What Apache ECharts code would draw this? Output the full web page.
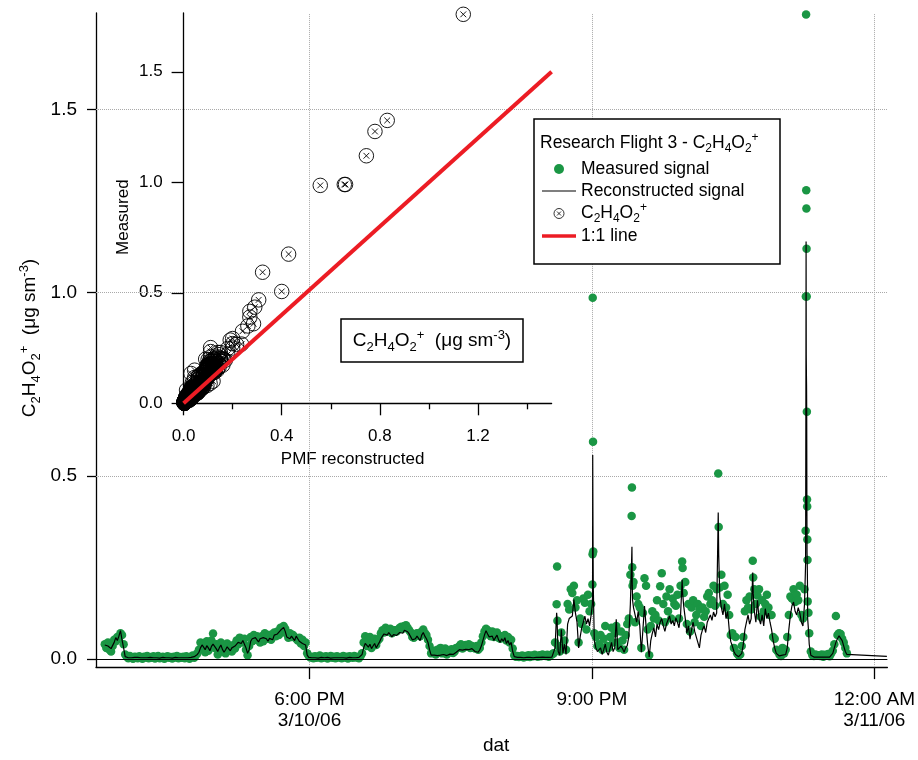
<!DOCTYPE html>
<html><head><meta charset="utf-8">
<script src="https://cdn.jsdelivr.net/npm/echarts@6/dist/echarts.min.js"></script>
<style>html,body{margin:0;padding:0;background:#fff}#chart{width:918px;height:760px}</style>
</head><body><div id="chart"></div>
<script>
// Time axis: minutes after 15:00 on 3/10/06
const START_MIN = 49.5;
const STEP_MIN = 1;

// Measured signal (ug sm-3), one value per minute
const measured = [
0.040,0.030,0.045,0.025,0.020,0.035,0.052,0.048,0.060,0.055,
0.070,0.065,0.040,0.012,0.006,0.002,0.008,0.004,0.000,0.006,
0.005,0.002,0.007,0.003,0.000,0.006,0.004,0.008,0.002,0.005,
0.003,0.007,0.001,0.005,0.008,0.002,0.004,0.006,0.000,0.005,
0.007,0.003,0.005,0.001,0.006,0.004,0.008,0.002,0.005,0.003,
0.006,0.002,0.007,0.004,0.000,0.006,0.009,0.003,0.010,0.015,
0.025,0.045,0.030,0.040,0.018,0.048,0.022,0.035,0.050,0.069,
0.030,0.040,0.012,0.038,0.045,0.020,0.025,0.015,0.042,0.035,
0.030,0.020,0.038,0.028,0.050,0.040,0.058,0.052,0.045,0.055,
0.025,0.010,0.035,0.060,0.048,0.065,0.052,0.062,0.055,0.045,
0.062,0.048,0.070,0.060,0.055,0.065,0.052,0.068,0.072,0.062,
0.075,0.065,0.085,0.078,0.090,0.082,0.068,0.058,0.070,0.060,
0.065,0.060,0.055,0.050,0.058,0.042,0.052,0.035,0.045,0.015,
0.008,0.004,0.006,0.002,0.007,0.003,0.005,0.009,0.002,0.006,
0.004,0.007,0.001,0.005,0.008,0.003,0.006,0.002,0.007,0.004,
0.005,0.002,0.008,0.004,0.006,0.001,0.007,0.005,0.003,0.008,
0.004,0.006,0.002,0.007,0.015,
0.045,0.062,0.035,0.050,0.060,0.030,0.045,0.055,0.038,0.050,
0.055,0.070,0.078,0.072,0.085,0.075,0.080,0.082,0.070,0.078,
0.078,0.075,0.080,0.085,0.088,0.082,0.090,0.092,0.085,0.078,
0.072,0.060,0.058,0.068,0.070,0.065,0.062,0.075,0.080,0.070,
0.065,0.052,0.035,0.015,0.018,0.022,0.012,0.025,0.018,0.030,
0.015,0.020,0.028,0.012,0.022,0.018,0.026,0.016,0.020,0.030,
0.030,0.035,0.040,0.028,0.032,0.038,0.036,0.040,0.030,0.035,
0.032,0.028,0.035,0.025,0.030,0.045,0.062,0.075,0.082,0.078,
0.070,0.062,0.075,0.060,0.068,0.072,0.058,0.055,0.062,0.060,
0.065,0.050,0.060,0.045,0.052,0.028,0.010,0.006,0.008,0.005,
0.007,0.009,0.004,0.008,0.006,0.010,0.005,0.009,0.007,0.011,
0.008,0.006,0.010,0.007,0.012,0.009,0.008,0.011,0.006,0.010,
0.012,0.015,0.045,0.149,0.035,0.020,0.072,0.030,0.050,0.025,
0.150,0.135,0.190,0.180,0.200,0.140,0.160,0.045,0.110,0.095,
0.165,0.153,0.080,0.175,0.130,0.150,0.986,0.070,0.060,0.035,
0.040,0.065,0.025,0.055,0.090,0.036,0.030,0.060,0.085,0.045,
0.070,0.090,0.045,0.030,0.075,0.050,0.025,0.065,0.095,0.110,
0.230,0.468,0.210,0.100,0.170,0.150,0.140,0.030,0.125,0.220,
0.200,0.080,0.010,0.090,0.130,0.110,0.120,0.160,0.105,0.198,
0.234,0.150,0.100,0.170,0.130,0.190,0.110,0.165,0.150,0.145,
0.175,0.110,0.200,0.266,0.180,0.210,0.095,0.150,0.075,0.140,
0.160,0.100,0.120,0.150,0.135,0.090,0.140,0.115,0.130,0.170,
0.180,0.150,0.160,0.200,0.145,0.190,0.506,0.195,0.230,0.150,
0.200,0.140,0.175,0.120,0.065,0.070,0.030,0.060,0.015,0.010,
0.012,0.035,0.060,0.130,0.160,0.140,0.170,0.135,0.268,0.190,
0.150,0.173,0.190,0.115,0.160,0.130,0.150,0.175,0.140,0.120,
0.120,0.060,0.055,0.025,0.020,0.012,0.008,0.030,0.015,0.025,
0.060,0.120,0.170,0.165,0.190,0.155,0.175,0.160,0.200,0.120,
0.110,0.190,1.760,0.157,0.070,0.020,0.010,0.008,0.012,0.009,
0.010,0.008,0.012,0.006,0.011,0.009,0.013,0.007,0.015,0.022,
0.040,0.117,0.065,0.070,0.068,0.055,0.045,0.030,0.015
];

// PMF reconstructed signal (ug sm-3), same times as measured
const recon = [
0.038,0.036,0.035,0.032,0.028,0.030,0.045,0.058,0.050,0.062,
0.077,0.052,0.030,0.006,0.004,0.003,0.004,0.003,0.003,0.004,
0.003,0.004,0.003,0.003,0.002,0.003,0.004,0.003,0.003,0.004,
0.003,0.003,0.004,0.003,0.003,0.002,0.003,0.004,0.003,0.003,
0.004,0.003,0.003,0.002,0.003,0.004,0.003,0.003,0.004,0.003,
0.003,0.003,0.004,0.003,0.004,0.004,0.005,0.006,0.008,0.012,
0.018,0.030,0.038,0.032,0.025,0.036,0.030,0.022,0.034,0.040,
0.035,0.028,0.020,0.030,0.038,0.026,0.018,0.025,0.033,0.028,
0.022,0.030,0.025,0.035,0.040,0.045,0.048,0.042,0.050,0.045,
0.030,0.015,0.025,0.048,0.055,0.050,0.058,0.052,0.046,0.055,
0.050,0.058,0.062,0.055,0.048,0.056,0.060,0.052,0.065,0.070,
0.068,0.072,0.078,0.082,0.086,0.075,0.060,0.065,0.055,0.062,
0.058,0.050,0.062,0.055,0.048,0.050,0.042,0.040,0.038,0.010,
0.004,0.003,0.003,0.004,0.003,0.003,0.002,0.003,0.004,0.003,
0.003,0.003,0.004,0.003,0.002,0.003,0.003,0.004,0.003,0.003,
0.003,0.004,0.003,0.003,0.002,0.003,0.004,0.003,0.003,0.004,
0.003,0.003,0.004,0.006,0.012,
0.030,0.042,0.038,0.032,0.040,0.028,0.035,0.042,0.030,0.038,
0.045,0.055,0.062,0.068,0.070,0.065,0.072,0.068,0.060,0.066,
0.070,0.064,0.068,0.072,0.075,0.070,0.078,0.082,0.074,0.068,
0.060,0.052,0.048,0.055,0.062,0.058,0.050,0.065,0.072,0.062,
0.055,0.045,0.025,0.010,0.008,0.010,0.012,0.009,0.011,0.010,
0.008,0.012,0.010,0.009,0.011,0.013,0.010,0.012,0.015,0.018,
0.022,0.025,0.028,0.024,0.020,0.026,0.030,0.025,0.022,0.028,
0.025,0.020,0.022,0.018,0.025,0.035,0.050,0.065,0.077,0.068,
0.060,0.055,0.062,0.050,0.058,0.065,0.052,0.045,0.055,0.048,
0.058,0.042,0.050,0.038,0.045,0.020,0.006,0.004,0.004,0.003,
0.004,0.004,0.003,0.004,0.004,0.003,0.004,0.004,0.003,0.004,
0.004,0.003,0.004,0.004,0.005,0.004,0.004,0.005,0.004,0.004,
0.005,0.008,0.030,0.126,0.020,0.010,0.080,0.015,0.040,0.012,
0.095,0.110,0.105,0.117,0.162,0.125,0.100,0.030,0.060,0.085,
0.100,0.117,0.095,0.110,0.090,0.120,0.557,0.050,0.030,0.020,
0.015,0.030,0.012,0.025,0.040,0.018,0.010,0.028,0.045,0.020,
0.030,0.108,0.025,0.020,0.035,0.028,0.018,0.030,0.036,0.060,
0.150,0.306,0.140,0.120,0.100,0.130,0.090,0.018,0.080,0.144,
0.090,0.040,0.005,0.050,0.070,0.085,0.060,0.095,0.080,0.100,
0.110,0.090,0.075,0.095,0.100,0.117,0.095,0.105,0.090,0.112,
0.100,0.085,0.120,0.216,0.144,0.110,0.070,0.090,0.054,0.080,
0.100,0.075,0.060,0.045,0.030,0.065,0.080,0.090,0.072,0.100,
0.110,0.120,0.105,0.128,0.115,0.125,0.400,0.170,0.140,0.120,
0.150,0.110,0.130,0.080,0.047,0.035,0.020,0.012,0.008,0.006,
0.008,0.015,0.040,0.080,0.100,0.120,0.095,0.110,0.236,0.130,
0.100,0.160,0.110,0.095,0.120,0.090,0.137,0.110,0.125,0.100,
0.080,0.050,0.030,0.015,0.010,0.008,0.006,0.010,0.007,0.012,
0.030,0.080,0.120,0.145,0.155,0.130,0.120,0.140,0.125,0.100,
0.090,0.150,1.140,0.110,0.040,0.010,0.006,0.005,0.004,0.005,
0.004,0.005,0.004,0.005,0.004,0.005,0.006,0.005,0.008,0.015,
0.030,0.045,0.055,0.063,0.060,0.050,0.035,0.020,0.012
];

// Extra high-rate samples recorded inside the short plume spikes
const burstTime     = [337.8,338.0,360.3,360.4,360.7,360.85,385.3,385.7,385.9,417.8,440.8,462.8,496.2,496.35,496.6,496.7,496.8,496.9,497.0,497.1,497.2,497.3,497.4,498.0];
const burstMeasured = [0.252,0.104,0.203,0.286,0.593,0.293,0.390,0.250,0.200,0.248,0.360,0.222,0.350,0.990,1.280,1.230,1.120,0.990,0.675,0.435,0.416,0.326,0.270,0.126];
const burstRecon    = [0.110,0.070,0.150,0.190,0.322,0.200,0.270,0.200,0.160,0.180,0.285,0.180,0.262,0.655,0.830,0.780,0.745,0.660,0.428,0.290,0.270,0.240,0.200,0.080];

// Last reconstructed value (no measurement)
const reconEndTime = 548;
const reconEndValue = 0.007;

// Axis ticks
const timeTickValues = [180, 360, 540];
const timeTickLabels = ['6:00 PM\n3/10/06', '9:00 PM', '12:00 AM\n3/11/06'];
const mainYTicks = [0, 0.5, 1.0, 1.5];
const insetXTicks = [0, 0.4, 0.8, 1.2];
const insetXMinorTicks = [0.2, 0.6, 1.0, 1.4];
const insetYTicks = [0, 0.5, 1.0, 1.5];
const oneToOneRange = [0, 1.5];

const seriesNames = ['Measured signal', 'Reconstructed signal', 'C2H4O2+', '1:1 line'];

// ---------- build ----------
const samples = [];
measured.forEach((m, i) => samples.push({ t: START_MIN + i * STEP_MIN, m: m, r: recon[i] }));
burstTime.forEach((t, i) => samples.push({ t: t, m: burstMeasured[i], r: burstRecon[i] }));
samples.sort((a, b) => a.t - b.t);
const measuredPoints = samples.map(s => [s.t, s.m]);
const reconPoints = samples.map(s => [s.t, s.r]).concat([[reconEndTime, reconEndValue]]);
const scatterPoints = samples.map(s => [s.r, s.m]);
const oneToOnePoints = oneToOneRange.map(v => [v, v]);

const FONT = 'Liberation Sans';
const GREEN = '#1a9644';
const RED = '#ec1c24';
const OTIMES = 'path://M0,10A10,10,0,1,1,20,10A10,10,0,1,1,0,10ZM6,6L14,14M14,6L6,14';

function chem(big, small) {
  return {
    n: { fontSize: big, fontFamily: FONT, color: '#000', lineHeight: Math.round(big * 1.3) },
    s: { fontSize: small, fontFamily: FONT, color: '#000', lineHeight: small, verticalAlign: 'bottom' },
    p: { fontSize: small, fontFamily: FONT, color: '#000', lineHeight: small, verticalAlign: 'top' }
  };
}
const formulaRich = '{n|C}{s|2}{n|H}{s|4}{n|O}{s|2}{p|+}';
const unitsRich = formulaRich + '{n|  (μg sm}{p|-3}{n|)}';

const axisLineStyle = { color: '#000', width: 1.3 };

const chart = echarts.init(document.getElementById('chart'), null, { renderer: 'canvas' });
chart.setOption({
  animation: false,
  backgroundColor: '#fff',
  textStyle: { fontFamily: FONT, color: '#000' },
  grid: [
    { left: 96, top: 13, width: 793, height: 659 },
    { left: 183.6, top: 13, width: 368, height: 390.3 },
    { left: 183.6, top: 13, width: 368, height: 390.3 }
  ],
  xAxis: [
    { type: 'value', gridIndex: 0, min: 43.9, max: 548.3,
      axisLine: { onZero: false, lineStyle: axisLineStyle },
      axisTick: { customValues: timeTickValues, length: 12, lineStyle: axisLineStyle },
      axisLabel: { customValues: timeTickValues, fontSize: 19, lineHeight: 21, margin: 22, color: '#000', fontFamily: FONT,
        formatter: v => { const i = timeTickValues.indexOf(v); return i >= 0 ? timeTickLabels[i] : ''; } },
      splitLine: { show: false },
      name: 'dat', nameLocation: 'middle', nameGap: 68,
      nameTextStyle: { fontSize: 19, color: '#000', fontFamily: FONT, padding: [0, 0, 0, 9] } },
    { type: 'value', gridIndex: 1, min: 0, max: 1.5,
      axisLine: { onZero: false, lineStyle: axisLineStyle },
      axisTick: { customValues: insetXTicks, length: 12, lineStyle: axisLineStyle },
      axisLabel: { customValues: insetXTicks, fontSize: 17, margin: 25, color: '#000', fontFamily: FONT, formatter: v => v.toFixed(1) },
      splitLine: { show: false },
      name: 'PMF reconstructed', nameLocation: 'middle', nameGap: 48,
      nameTextStyle: { fontSize: 17, color: '#000', fontFamily: FONT, padding: [0, 30, 0, 0] } },
    { type: 'value', gridIndex: 2, min: 0, max: 1.5,
      axisLine: { show: false },
      axisTick: { customValues: insetXMinorTicks, length: 6, lineStyle: axisLineStyle },
      axisLabel: { show: false }, splitLine: { show: false } }
  ],
  yAxis: [
    { type: 'value', gridIndex: 0, min: -0.0225, max: 1.764,
      axisLine: { show: true, onZero: false, lineStyle: axisLineStyle },
      axisTick: { show: true, customValues: mainYTicks, length: 9, lineStyle: axisLineStyle },
      axisLabel: { customValues: mainYTicks, fontSize: 19, margin: 19, color: '#000', fontFamily: FONT, formatter: v => v.toFixed(1) },
      splitLine: { show: false } },
    { type: 'value', gridIndex: 1, min: 0, max: 1.766,
      axisLine: { show: true, onZero: false, lineStyle: axisLineStyle },
      axisTick: { show: true, customValues: insetYTicks, length: 12, lineStyle: axisLineStyle },
      axisLabel: { customValues: insetYTicks, fontSize: 17, margin: 21, color: '#000', fontFamily: FONT, formatter: v => v.toFixed(1) },
      splitLine: { show: false },
      name: 'Measured', nameLocation: 'middle', nameGap: 52, nameRotate: 90,
      nameTextStyle: { fontSize: 17, color: '#000', fontFamily: FONT, padding: [0, 18, 0, 0] } },
    { type: 'value', gridIndex: 2, min: 0, max: 1.766, show: false }
  ],
  legend: {
    data: [
      { name: seriesNames[0], icon: 'circle' },
      { name: seriesNames[1], icon: 'path://M0,0H40V1H0Z' },
      { name: seriesNames[2], itemStyle: { color: 'rgba(0,0,0,0)', borderColor: '#000', borderWidth: 0.8 } },
      { name: seriesNames[3], icon: 'path://M0,0H40V4H0Z' }
    ],
    orient: 'vertical', left: 542, top: 158, padding: 0,
    itemWidth: 34, itemHeight: 10, itemGap: 0, selectedMode: false, z: 60,
    textStyle: { fontSize: 17.5, lineHeight: 22, color: '#000', fontFamily: FONT, rich: chem(17.5, 12) },
    formatter: name => name === 'C2H4O2+' ? formulaRich : name
  },
  graphic: [
    { type: 'rect', z: 50, shape: { x: 534, y: 119, width: 246, height: 145 },
      style: { fill: '#fff', stroke: '#000', lineWidth: 1.5 } },
    { type: 'text', z: 55, x: 540, y: 143,
      style: { text: '{n|Research Flight 3 - C}{s|2}{n|H}{s|4}{n|O}{s|2}{p|+}', rich: chem(17.5, 12), align: 'left', verticalAlign: 'middle' } },
    { type: 'rect', z: 50, shape: { x: 341, y: 319, width: 182, height: 43 },
      style: { fill: '#fff', stroke: '#000', lineWidth: 1.5 } },
    { type: 'text', z: 55, x: 432, y: 341,
      style: { text: unitsRich, rich: chem(19, 13), align: 'center', verticalAlign: 'middle' } },
    { type: 'text', z: 55, x: 30, y: 338, rotation: Math.PI / 2,
      style: { text: unitsRich, rich: chem(19, 13), align: 'center', verticalAlign: 'middle' } }
  ],
  series: [
    { name: 'Measured signal', type: 'scatter', xAxisIndex: 0, yAxisIndex: 0, data: measuredPoints,
      symbol: 'circle', symbolSize: 8.5, itemStyle: { color: GREEN, opacity: 1 }, z: 2, silent: true,
      markLine: { silent: true, z: 1, symbol: ['none', 'none'], label: { show: false },
        lineStyle: { type: 'dotted', color: '#a9a9a9', width: 1 },
        data: mainYTicks.filter(v => v > 0).map(v => ({ yAxis: v })).concat(timeTickValues.map(v => ({ xAxis: v }))) } },
    { name: 'Reconstructed signal', type: 'line', xAxisIndex: 0, yAxisIndex: 0, data: reconPoints,
      symbol: 'none', lineStyle: { color: '#000', width: 1.2 }, itemStyle: { color: '#000' }, z: 3, silent: true,
      markLine: { silent: true, z: 3, symbol: ['none', 'none'], label: { show: false },
        lineStyle: { type: 'solid', color: '#000', width: 1.2 }, data: [{ yAxis: 0 }] } },
    { name: 'C2H4O2+', type: 'scatter', xAxisIndex: 1, yAxisIndex: 1, data: scatterPoints,
      symbol: OTIMES, symbolSize: 14.5, clip: false, silent: true,
      itemStyle: { color: 'rgba(0,0,0,0)', borderColor: '#000', borderWidth: 0.9, opacity: 1 }, z: 4 },
    { name: '1:1 line', type: 'line', xAxisIndex: 1, yAxisIndex: 1, data: oneToOnePoints,
      symbol: 'none', lineStyle: { color: RED, width: 4 }, itemStyle: { color: RED }, z: 5, silent: true }
  ]
});
</script>
</body></html>
